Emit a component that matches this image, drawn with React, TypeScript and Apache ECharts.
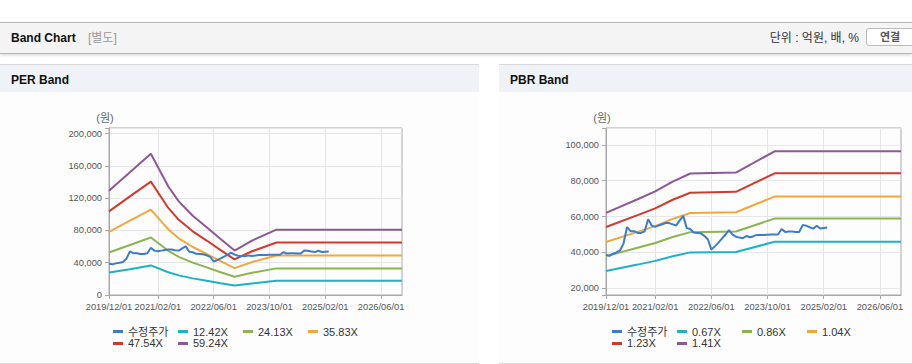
import React, { useEffect, useRef } from 'react';
import * as echarts from 'echarts';

const FONT = '"Liberation Sans", Arial, "Noto Sans CJK KR", sans-serif';

const categories = [
  '2019/12/01',
  '2020/01/01', '2020/02/01', '2020/03/01', '2020/04/01', '2020/05/01', '2020/06/01', '2020/07/01', '2020/08/01', '2020/09/01', '2020/10/01', '2020/11/01', '2020/12/01',
  '2021/01/01', '2021/02/01', '2021/03/01', '2021/04/01', '2021/05/01', '2021/06/01', '2021/07/01', '2021/08/01', '2021/09/01', '2021/10/01', '2021/11/01', '2021/12/01',
  '2022/01/01', '2022/02/01', '2022/03/01', '2022/04/01', '2022/05/01', '2022/06/01', '2022/07/01', '2022/08/01', '2022/09/01', '2022/10/01', '2022/11/01', '2022/12/01',
  '2023/01/01', '2023/02/01', '2023/03/01', '2023/04/01', '2023/05/01', '2023/06/01', '2023/07/01', '2023/08/01', '2023/09/01', '2023/10/01', '2023/11/01', '2023/12/01',
  '2024/01/01', '2024/02/01', '2024/03/01', '2024/04/01', '2024/05/01', '2024/06/01', '2024/07/01', '2024/08/01', '2024/09/01', '2024/10/01', '2024/11/01', '2024/12/01',
  '2025/01/01', '2025/02/01', '2025/03/01', '2025/04/01', '2025/05/01', '2025/06/01', '2025/07/01', '2025/08/01', '2025/09/01', '2025/10/01', '2025/11/01', '2025/12/01',
  '2026/01/01', '2026/02/01', '2026/03/01', '2026/04/01', '2026/05/01', '2026/06/01', '2026/07/01', '2026/08/01', '2026/09/01', '2026/10/01', '2026/11/01', '2026/12/01',
];

const xLabelDates = ['2019/12/01', '2021/02/01', '2022/06/01', '2023/10/01', '2025/02/01', '2026/06/01'];

const priceName = '수정주가';
const price = [
  38600, 38000, 39200, 39900, 41000, 45000, 54100, 51800, 51800, 50800,
  50800, 51700, 58500, 55000, 54200, 55000, 55700, 56400, 56300, 55600,
  55000, 57800, 60300, 53500, 53000, 51000, 50800, 50600, 49200, 47300,
  41500, 43300, 45400, 47600, 49800, 52400, 50000, 48700, 48200, 47900,
  49100, 48400, 49000, 49700, 49700, 49700, 49800, 49900, 50000, 49900,
  53000, 51400, 51600, 51600, 51400, 51300, 55200, 54900, 54000, 53200,
  54800, 53300, 53600, 53800,
];

// PER band
const perBandNames = ['12.42X', '24.13X', '35.83X', '47.54X', '59.24X'];
const perBreakDates = ['2019/12/01', '2020/06/01', '2020/12/01', '2021/05/01', '2021/08/01', '2021/12/01', '2022/04/01', '2022/08/01', '2022/12/01', '2023/05/01', '2023/12/01', '2026/12/01'];
const per1242 = [27800, 31900, 36700, 28200, 24300, 20600, 17700, 14700, 11900, 14400, 17600, 17600];
const per2413 = [52650, 62000, 71300, 54800, 47300, 40100, 34300, 28200, 22700, 27500, 33000, 33000];
const per3583 = [78200, 92100, 105900, 81300, 70200, 59500, 50900, 41900, 33300, 40800, 49000, 49000];
const per4754 = [103700, 122200, 140500, 107900, 93200, 78900, 67500, 55600, 44200, 54200, 65000, 65000];
const per5924 = [129300, 152200, 175100, 134500, 116100, 98300, 84100, 69300, 55100, 67500, 81000, 81000];
const perYTicks = [0, 40000, 80000, 120000, 160000, 200000];

// PBR band
const pbrBandNames = ['0.67X', '0.86X', '1.04X', '1.23X', '1.41X'];
const pbrBreakDates = ['2019/12/01', '2020/09/01', '2021/02/01', '2021/07/01', '2021/12/01', '2023/01/01', '2023/12/01', '2026/12/01'];
const pbr067 = [29480, 33100, 35180, 37790, 39930, 40200, 45830, 45830];
const pbr086 = [37840, 42480, 45150, 48500, 51260, 51600, 58820, 58820];
const pbr104 = [45760, 51380, 54600, 58660, 61980, 62400, 71140, 71140];
const pbr123 = [54120, 60760, 64580, 69370, 73310, 73800, 84130, 84130];
const pbr141 = [62040, 69650, 74030, 79520, 84040, 84600, 96440, 96440];
const pbrYTicks = [20000, 40000, 60000, 80000, 100000];

const colors = ['#3b7ccc', '#1cb2c6', '#8db451', '#f2a73a', '#d23a2e', '#8c5895'];

function buildOption(
  bandNames: string[],
  breakDates: string[],
  bands: number[][],
  yMin: number,
  yMax: number,
  yInterval: number | undefined,
  yTicks: number[],
  gridLeft: number,
  gridWidth: number,
  unitX: number
) {
  const series: any[] = [
    {
      name: priceName,
      type: 'line',
      data: price,
      showSymbol: false,
      symbol: 'none',
      z: 5,
      lineStyle: { width: 2, color: colors[0] },
      itemStyle: { color: colors[0] },
    },
  ];
  bands.forEach((b, i) => {
    series.push({
      name: bandNames[i],
      type: 'line',
      data: breakDates.map((d, j) => [d, b[j]]),
      showSymbol: false,
      symbol: 'none',
      z: 2,
      lineStyle: { width: 2, color: colors[i + 1] },
      itemStyle: { color: colors[i + 1] },
    });
  });
  const isLabel = (_i: number, v: string) => xLabelDates.includes(v);
  return {
    animation: false,
    color: colors,
    textStyle: { fontFamily: FONT },
    grid: {
      left: gridLeft,
      top: 36,
      width: gridWidth,
      height: 167,
      show: true,
      borderColor: '#a8a8a8',
      borderWidth: 1,
      containLabel: false,
    },
    graphic: [
      {
        type: 'text',
        x: unitX,
        y: 26,
        style: {
          text: '(원)',
          fill: '#666',
          font: `11px ${FONT}`,
          textAlign: 'center',
          textVerticalAlign: 'middle',
        },
      },
    ],
    legend: {
      left: 108,
      top: 229,
      width: 262,
      itemGap: 1,
      itemWidth: 10,
      itemHeight: 3,
      icon: 'rect',
      selectedMode: false,
      data: [priceName, ...bandNames],
      formatter: (name: string) => `{a|${name}}`,
      textStyle: {
        rich: {
          a: { width: 49, fontSize: 11, lineHeight: 13, color: '#333', fontFamily: FONT },
        },
      },
    },
    xAxis: {
      type: 'category',
      data: categories,
      boundaryGap: false,
      axisLine: { lineStyle: { color: '#a8a8a8' } },
      axisTick: { interval: isLabel, length: 4, lineStyle: { color: '#a8a8a8' } },
      axisLabel: {
        interval: isLabel,
        margin: 7,
        fontSize: 9.3,
        color: '#555',
        fontFamily: FONT,
      },
      splitLine: { show: true, interval: isLabel, lineStyle: { color: '#e6e6e6' } },
    },
    yAxis: {
      type: 'value',
      min: yMin,
      max: yMax,
      interval: yInterval,
      axisLine: { show: true, lineStyle: { color: '#a8a8a8' } },
      axisTick: { show: true, length: 4, lineStyle: { color: '#a8a8a8' } },
      axisLabel: {
        margin: 7,
        fontSize: 9.3,
        color: '#555',
        fontFamily: FONT,
        formatter: (v: number) => (yTicks.includes(v) ? v.toLocaleString('en-US') : ''),
      },
      splitLine: { show: true, lineStyle: { color: '#e6e6e6' } },
    },
    series,
  };
}

function Chart({ option, style }: { option: any; style: React.CSSProperties }) {
  const ref = useRef<HTMLDivElement>(null);
  useEffect(() => {
    if (!ref.current) return;
    const chart = echarts.init(ref.current, undefined, { renderer: 'svg' });
    chart.setOption(option);
    return () => chart.dispose();
  }, [option]);
  return <div ref={ref} style={style} />;
}

const perOption = buildOption(
  perBandNames,
  perBreakDates,
  [per1242, per2413, per3583, per4754, per5924],
  0,
  207000,
  40000,
  perYTicks,
  109,
  293,
  105
);

const pbrOption = buildOption(
  pbrBandNames,
  pbrBreakDates,
  [pbr067, pbr086, pbr104, pbr123, pbr141],
  16100,
  109500,
  undefined,
  pbrYTicks,
  107,
  295,
  103
);

export default function App() {
  const wrap: React.CSSProperties = {
    position: 'absolute',
    left: 0,
    top: 0,
    width: 912,
    height: 364,
    overflow: 'hidden',
    background: '#fff',
    fontFamily: FONT,
  };
  return (
    <div style={wrap}>
      {/* Top header bar */}
      <div
        style={{
          position: 'absolute',
          left: 0,
          top: 22,
          width: 912,
          height: 30,
          background: '#f4f4f4',
          borderTop: '1px solid #b9b9b9',
          borderBottom: '1px solid #b5b5b5',
          boxShadow: '0 1px 3px rgba(0,0,0,0.18)',
        }}
      >
        <span
          style={{
            position: 'absolute',
            left: 11,
            top: 0,
            lineHeight: '30px',
            fontSize: 12,
            fontWeight: 'bold',
            color: '#111',
          }}
        >
          Band Chart
        </span>
        <span
          style={{
            position: 'absolute',
            left: 88,
            top: 0,
            lineHeight: '30px',
            fontSize: 12,
            color: '#999',
          }}
        >
          [별도]
        </span>
        <span
          style={{
            position: 'absolute',
            right: 53,
            top: 0,
            lineHeight: '30px',
            fontSize: 12,
            color: '#333',
          }}
        >
          단위 : 억원, 배, %
        </span>
        <div
          style={{
            position: 'absolute',
            left: 866,
            top: 5,
            width: 56,
            height: 18,
            background: '#fff',
            border: '1px solid #bbb',
            borderRadius: 3,
            boxSizing: 'border-box',
          }}
        >
          <span
            style={{
              position: 'absolute',
              left: 13,
              top: 0,
              lineHeight: '17px',
              fontSize: 11,
              fontWeight: 'bold',
              color: '#555',
            }}
          >
            연결
          </span>
        </div>
      </div>

      {/* PER panel */}
      <div
        style={{
          position: 'absolute',
          left: 0,
          top: 64,
          width: 479,
          height: 298,
          borderTop: '1px solid #d9d9d9',
          borderBottom: '1px solid #d9d9d9',
          background: '#fdfdfd',
        }}
      >
        <div style={{ height: 27, background: '#eff3f8', position: 'relative' }}>
          <span
            style={{
              position: 'absolute',
              left: 11,
              top: 0,
              lineHeight: '30px',
              fontSize: 12,
              fontWeight: 'bold',
              color: '#111',
            }}
          >
            PER Band
          </span>
        </div>
      </div>

      {/* PBR panel */}
      <div
        style={{
          position: 'absolute',
          left: 499,
          top: 64,
          width: 413,
          height: 298,
          borderTop: '1px solid #d9d9d9',
          borderBottom: '1px solid #d9d9d9',
          background: '#fdfdfd',
        }}
      >
        <div style={{ height: 27, background: '#eff3f8', position: 'relative' }}>
          <span
            style={{
              position: 'absolute',
              left: 11,
              top: 0,
              lineHeight: '30px',
              fontSize: 12,
              fontWeight: 'bold',
              color: '#111',
            }}
          >
            PBR Band
          </span>
        </div>
      </div>

      <Chart option={perOption} style={{ position: 'absolute', left: 0, top: 92, width: 479, height: 270 }} />
      <Chart option={pbrOption} style={{ position: 'absolute', left: 499, top: 92, width: 413, height: 270 }} />
    </div>
  );
}
